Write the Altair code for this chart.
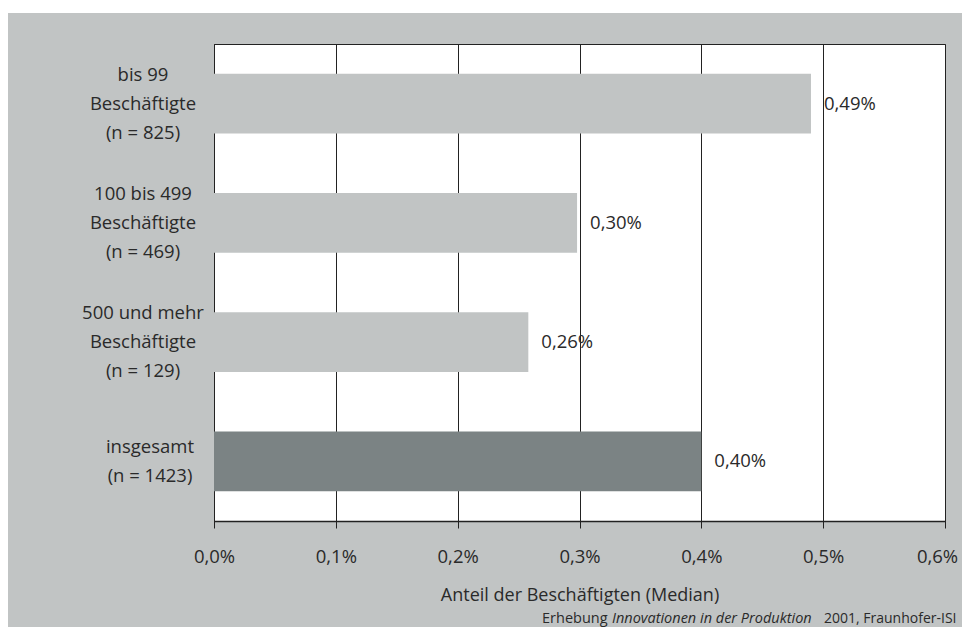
import altair as alt
import pandas as pd

# Data
categories = [
    "bis 99|Beschäftigte|(n = 825)",
    "100 bis 499|Beschäftigte|(n = 469)",
    "500 und mehr|Beschäftigte|(n = 129)",
    "insgesamt|(n = 1423)",
]
values = [0.49, 0.298, 0.258, 0.40]
groups = ["teil", "teil", "teil", "gesamt"]
x_ticks = [0, 0.1, 0.2, 0.3, 0.4, 0.5, 0.6]

x_title = "Anteil der Beschäftigten (Median)"
footer_a = "Erhebung"
footer_b = "Innovationen in der Produktion"
footer_c = "2001, Fraunhofer-ISI"

FONT = "Open Sans"
TXT = "#2a2a2a"
BG = "#c1c4c4"
LH = 29

df = pd.DataFrame({"kategorie": categories, "anteil": values, "gruppe": groups})
one = pd.DataFrame({"k": [0]})

base = alt.Chart(df)

y_scale = alt.Scale(domain=categories, paddingInner=0.5, paddingOuter=0.25)

y_enc = alt.Y(
    "kategorie:N",
    sort=categories,
    scale=y_scale,
    axis=alt.Axis(title=None, labels=False, ticks=False, domainColor="#222"),
)
x_enc = alt.X(
    "anteil:Q",
    scale=alt.Scale(domain=[0, 0.6], nice=False, zero=True),
    axis=alt.Axis(
        values=x_ticks,
        labelExpr="replace(format(datum.value, '.1f'), '.', ',') + '%'",
        labelOffset={"condition": {"test": "datum.value >= 0.59", "value": -8}, "value": 0},
        title=x_title,
        grid=True,
        gridColor="#222",
        gridWidth=1,
        gridOpacity=1,
        tickSize=7,
        tickColor="#222",
        domainColor="#222",
        domainWidth=1.5,
        labelFont=FONT,
        labelFontSize=18.5,
        labelColor=TXT,
        labelPadding=19,
        titleFont=FONT,
        titleFontSize=18,
        titleFontWeight="normal",
        titleColor=TXT,
        titlePadding=21,
        labelFlush=False,
    ),
)

bars = base.mark_bar().encode(
    y=y_enc,
    x=x_enc,
    color=alt.Color(
        "gruppe:N",
        scale=alt.Scale(domain=["teil", "gesamt"], range=[BG, "#7b8384"]),
        legend=None,
    ),
)

values_text = base.transform_calculate(
    lab="replace(format(datum.anteil, '.2f'), '.', ',') + '%'"
).mark_text(align="left", baseline="middle", dx=13, font=FONT, fontSize=18.5, color=TXT).encode(
    y=alt.Y("kategorie:N", sort=categories),
    x="anteil:Q",
    text="lab:N",
)

# category labels (multi-line), vertically centred on each bar
cat3 = base.transform_filter("datum.gruppe == 'teil'").transform_calculate(
    lines="split(datum.kategorie, '|')"
).mark_text(
    align="center", baseline="middle", dy=-LH, lineHeight=LH, font=FONT, fontSize=18.5, color=TXT
).encode(y=alt.Y("kategorie:N", sort=categories), x=alt.value(-71), text="lines:N")

cat2 = base.transform_filter("datum.gruppe == 'gesamt'").transform_calculate(
    lines="split(datum.kategorie, '|')"
).mark_text(
    align="center", baseline="middle", dy=-LH / 2, lineHeight=LH, font=FONT, fontSize=18.5, color=TXT
).encode(y=alt.Y("kategorie:N", sort=categories), x=alt.value(-64), text="lines:N")

top_strip = alt.Chart(one).mark_rect(color="white").encode(
    x=alt.value(-206), x2=alt.value(760), y=alt.value(-36), y2=alt.value(-31)
)

FY = 575
fa = alt.Chart(one).mark_text(align="left", baseline="middle", font=FONT, fontSize=14.5, color=TXT).encode(
    x=alt.value(328), y=alt.value(FY), text=alt.value(footer_a)
)
fb = alt.Chart(one).mark_text(align="left", baseline="middle", font=FONT, fontSize=14.5, fontStyle="italic", color=TXT).encode(
    x=alt.value(398), y=alt.value(FY), text=alt.value(footer_b)
)
fc = alt.Chart(one).mark_text(align="left", baseline="middle", font=FONT, fontSize=14, color=TXT).encode(
    x=alt.value(610), y=alt.value(FY), text=alt.value(footer_c)
)

chart = (
    alt.layer(top_strip, bars, values_text, cat3, cat2, fa, fb, fc)
    .properties(
        width=731,
        height=477,
        padding={"left": 206, "top": 36, "right": 17, "bottom": 106},
        autosize=alt.AutoSizeParams(type="none"),
        background=BG,
    )
    .configure_view(stroke="#222", strokeWidth=1, fill="white")
)

chart.save("out.html", embed_options={"renderer": "svg", "actions": False})
